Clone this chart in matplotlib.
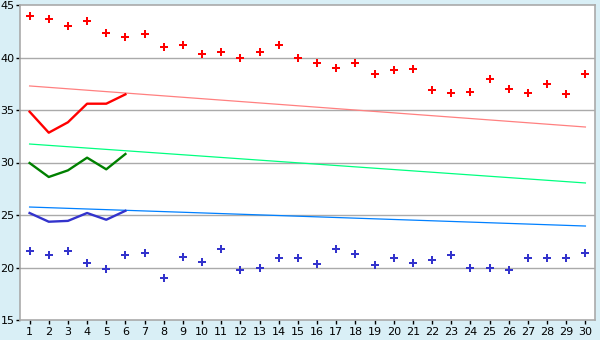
import numpy as np
import matplotlib
matplotlib.use('Agg')
import matplotlib.pyplot as plt

# data
days = list(range(1, 31))

red_points = [43.95, 43.7, 43.0, 43.45, 42.3, 42.0, 42.2, 40.97, 41.2, 40.33,
              40.5, 40.0, 40.5, 41.2, 40.0, 39.45, 38.97, 39.5, 38.4, 38.78,
              38.87, 36.87, 36.6, 36.68, 38.0, 36.97, 36.6, 37.45, 36.5, 38.4]
blue_points = [21.57, 21.16, 21.57, 20.4, 19.83, 21.16, 21.35, 18.97, 20.97, 20.5,
               21.73, 19.73, 20.0, 20.95, 20.87, 20.3, 21.8, 21.26, 20.2, 20.95,
               20.4, 20.68, 21.16, 20.0, 20.0, 19.8, 20.95, 20.95, 20.95, 21.35]

first_days = [1, 2, 3, 4, 5, 6]
red_line = [34.84, 32.84, 33.83, 35.6, 35.6, 36.49]
green_line = [29.95, 28.62, 29.25, 30.46, 29.35, 30.81]
blue_line = [25.19, 24.36, 24.44, 25.19, 24.55, 25.4]

trend_days = [1, 30]
red_trend = [37.29, 33.38]
green_trend = [31.76, 28.05]
blue_trend = [25.76, 23.95]

bg = '#d9eff6'
grid_col = '#aaaaaa'

fig = plt.figure(figsize=(6, 3.4), dpi=100, facecolor=bg)
ax = fig.add_axes([20 / 600, 20 / 340, 575 / 600, 315 / 340])
ax.set_facecolor('white')

# gridlines
for v in [20, 25, 30, 35, 40]:
    ax.axhline(v, color=grid_col, lw=1, zorder=1)

# trend lines
ax.plot(trend_days, red_trend, color='#ff8080', lw=0.9, zorder=2)
ax.plot(trend_days, green_trend, color='#00ff80', lw=0.9, zorder=2)
ax.plot(trend_days, blue_trend, color='#0080ff', lw=0.9, zorder=2)

# first week lines
ax.plot(first_days, red_line, color='#ff0000', lw=1.7, zorder=3)
ax.plot(first_days, green_line, color='#008000', lw=1.7, zorder=3)
ax.plot(first_days, blue_line, color='#3333cc', lw=1.7, zorder=3)

# daily points
ax.plot(days, red_points, ls='none', marker='P', ms=6, color='#ff0000',
        markeredgewidth=0, zorder=4)
ax.plot(days, blue_points, ls='none', marker='P', ms=6, color='#3333cc',
        markeredgewidth=0, zorder=4)

ax.set_xlim(0.5, 30.5)
ax.set_ylim(15, 45)
ax.set_xticks(days)
ax.set_yticks([15, 20, 25, 30, 35, 40, 45])

for s in ax.spines.values():
    s.set_color(grid_col)
    s.set_linewidth(1.2)

ax.tick_params(axis='both', colors='black', labelsize=8, length=3, width=1)
ax.tick_params(axis='x', pad=2)
ax.tick_params(axis='y', pad=1)

fig.savefig('out.png', dpi=100, facecolor=bg)
